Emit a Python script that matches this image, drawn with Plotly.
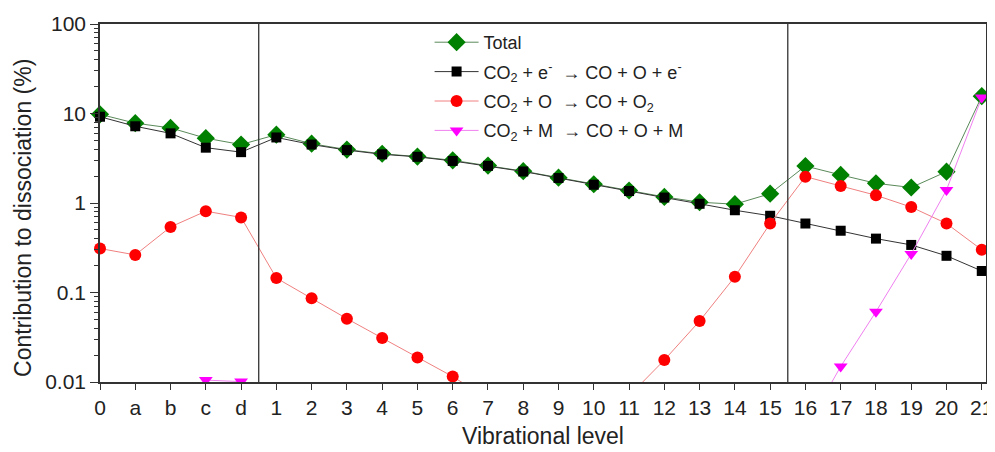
import plotly.graph_objects as go

levels = ["0", "a", "b", "c", "d", "1", "2", "3", "4", "5", "6", "7", "8", "9",
          "10", "11", "12", "13", "14", "15", "16", "17", "18", "19", "20", "21"]

total = [9.8, 7.8, 6.9, 5.3, 4.5, 5.8, 4.6, 3.95, 3.55, 3.3, 3.0, 2.62, 2.27,
         1.92, 1.62, 1.38, 1.17, 1.02, 0.97, 1.27, 2.59, 2.06, 1.66, 1.49, 2.24, 15.6]

electron = [9.2, 7.2, 6.0, 4.15, 3.7, 5.4, 4.5, 3.9, 3.5, 3.28, 2.95, 2.6, 2.25,
            1.9, 1.6, 1.36, 1.15, 0.98, 0.83, 0.72, 0.59, 0.49, 0.40, 0.34, 0.257, 0.174]

oxygen = [0.31, 0.263, 0.54, 0.81, 0.69, 0.145, 0.086, 0.051, 0.031, 0.0188, 0.0115,
          0.0065, None, None, None, 0.007, 0.0176, 0.048, 0.15, 0.59, 1.97, 1.55,
          1.22, 0.90, 0.59, 0.30]

third_body = [None, None, None, 0.0105, 0.0101, None, None, None, None, None, None,
              None, None, None, None, None, None, None, None, None, 0.003, 0.0149,
              0.061, 0.27, 1.40, 15.1]

y_tick_vals = [0.01, 0.1, 1, 10, 100]
y_tick_text = ["0.01", "0.1", "1", "10", "100"]
y_minor_vals = [m * d for d in (0.01, 0.1, 1, 10) for m in range(2, 10)]

x_title = "Vibrational level"
y_title = "Contribution to dissociation (%)"

sp = "\u00a0"
names = ["Total",
         f"CO<sub>2</sub> + e<sup>-</sup>{sp}{sp}\u2192 CO + O + e<sup>-</sup>",
         f"CO<sub>2</sub> + O{sp}{sp}\u2192 CO + O<sub>2</sub>",
         f"CO<sub>2</sub> + M{sp}{sp}\u2192 CO + O + M"]

fig = go.Figure()
fig.add_trace(go.Scatter(x=levels, y=total, name=names[0], mode="lines+markers",
                         legendgroup="g1",
                         line=dict(color="#5a8a5a", width=1),
                         marker=dict(symbol="diamond", size=14, color="#008000"),
                         cliponaxis=False))
fig.add_trace(go.Scatter(x=levels, y=electron, name=names[1], mode="lines+markers",
                         legendgroup="g2",
                         line=dict(color="#333333", width=1),
                         marker=dict(symbol="square", size=10, color="black"),
                         cliponaxis=False))
fig.add_trace(go.Scatter(x=levels, y=oxygen, name=names[2], mode="lines+markers",
                         legendgroup="g3",
                         line=dict(color="#f08080", width=1),
                         marker=dict(symbol="circle", size=12, color="#ff0000"),
                         cliponaxis=False))
fig.add_trace(go.Scatter(x=levels, y=third_body, name=names[3], mode="lines+markers",
                         legendgroup="g4",
                         line=dict(color="#f080f0", width=1),
                         marker=dict(symbol="triangle-down", size=12, color="#ff00ff"),
                         cliponaxis=True))

for xv in (4.5, 19.5):
    fig.add_shape(type="line", xref="x", yref="paper", x0=xv, x1=xv, y0=0, y1=1,
                  line=dict(color="#333333", width=1.3))

fig.add_annotation(text=y_title, textangle=-90, xref="paper", yref="paper",
                   x=-0.087, y=0.458, xanchor="center", yanchor="middle",
                   showarrow=False, font=dict(size=23))

font_family = "Liberation Sans, Arial, sans-serif"
fig.update_layout(
    width=987, height=444,
    margin=dict(l=92, r=9, t=16, b=70),
    paper_bgcolor="white", plot_bgcolor="white",
    font=dict(family=font_family, size=20, color="#222222"),
    showlegend=True,
    legend=dict(x=0.372, y=1.0, xanchor="left", yanchor="top",
                bgcolor="rgba(0,0,0,0)", font=dict(size=18),
                tracegroupgap=3, traceorder="grouped", itemwidth=44,
                itemsizing="trace"),
    xaxis=dict(type="category", categoryorder="array", categoryarray=levels,
               range=[0, 25.12], showgrid=False, zeroline=False, automargin=False,
               showline=True, linecolor="#333333", linewidth=1.5, mirror=True,
               ticks="outside", ticklen=6, tickcolor="#333333",
               title=dict(text=x_title, font=dict(size=23), standoff=10),
               tickfont=dict(size=21)),
    yaxis=dict(type="log", range=[-2, 2], showgrid=False, zeroline=False, automargin=False,
               showline=True, linecolor="#333333", linewidth=1.5, mirror=True,
               ticks="outside", ticklen=8, tickcolor="#333333",
               tickvals=y_tick_vals, ticktext=y_tick_text,
               minor=dict(ticks="outside", ticklen=4, tickcolor="#333333",
                          tickvals=y_minor_vals, showgrid=False),
               tickfont=dict(size=21)),
)

fig.write_html("out.html")
